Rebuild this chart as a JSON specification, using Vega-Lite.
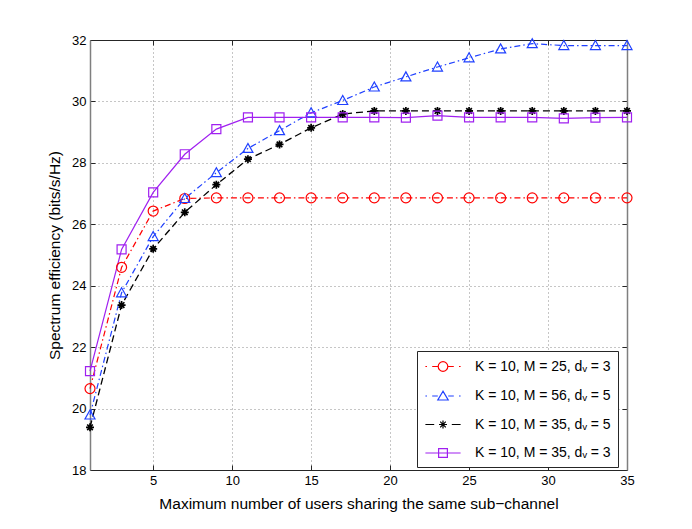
{
  "$schema": "https://vega.github.io/schema/vega-lite/v6.json",
  "width": 537,
  "height": 430,
  "autosize": "none",
  "padding": {"left": 90, "top": 40, "right": 65, "bottom": 59},
  "background": "white",
  "config": {
    "font": "Liberation Sans",
    "view": {"stroke": null},
    "axis": {
      "labelFont": "Liberation Sans",
      "titleFont": "Liberation Sans",
      "labelFontSize": 13,
      "titleFontSize": 15.5,
      "titleFontWeight": "normal",
      "labelColor": "black",
      "titleColor": "black",
      "tickSize": -5,
      "tickColor": "#262626",
      "domainColor": "#262626",
      "gridColor": "#8c8c8c",
      "gridDash": [1, 3],
      "labelFlush": false
    },
    "legend": {
      "orient": "none",
      "legendX": 327,
      "legendY": 311,
      "strokeColor": "#262626",
      "fillColor": "white",
      "padding": 6.5,
      "symbolSize": 256,
      "symbolStrokeWidth": 1.2,
      "symbolOffset": 10.5,
      "labelOffset": 23,
      "labelFontSize": 14,
      "labelFont": "Liberation Sans",
      "labelColor": "black",
      "labelLimit": 300,
      "rowPadding": 12.5,
      "symbolOpacity": 1
    }
  },
  "data": {
    "values": [
      {"series": "K = 10, M = 25, dᵥ = 3", "x": 1, "y": 20.65},
      {"series": "K = 10, M = 25, dᵥ = 3", "x": 3, "y": 24.6},
      {"series": "K = 10, M = 25, dᵥ = 3", "x": 5, "y": 26.43},
      {"series": "K = 10, M = 25, dᵥ = 3", "x": 7, "y": 26.84},
      {"series": "K = 10, M = 25, dᵥ = 3", "x": 9, "y": 26.86},
      {"series": "K = 10, M = 25, dᵥ = 3", "x": 11, "y": 26.86},
      {"series": "K = 10, M = 25, dᵥ = 3", "x": 13, "y": 26.86},
      {"series": "K = 10, M = 25, dᵥ = 3", "x": 15, "y": 26.86},
      {"series": "K = 10, M = 25, dᵥ = 3", "x": 17, "y": 26.86},
      {"series": "K = 10, M = 25, dᵥ = 3", "x": 19, "y": 26.86},
      {"series": "K = 10, M = 25, dᵥ = 3", "x": 21, "y": 26.86},
      {"series": "K = 10, M = 25, dᵥ = 3", "x": 23, "y": 26.86},
      {"series": "K = 10, M = 25, dᵥ = 3", "x": 25, "y": 26.86},
      {"series": "K = 10, M = 25, dᵥ = 3", "x": 27, "y": 26.86},
      {"series": "K = 10, M = 25, dᵥ = 3", "x": 29, "y": 26.86},
      {"series": "K = 10, M = 25, dᵥ = 3", "x": 31, "y": 26.86},
      {"series": "K = 10, M = 25, dᵥ = 3", "x": 33, "y": 26.86},
      {"series": "K = 10, M = 25, dᵥ = 3", "x": 35, "y": 26.86},
      {"series": "K = 10, M = 56, dᵥ = 5", "x": 1, "y": 19.79},
      {"series": "K = 10, M = 56, dᵥ = 5", "x": 3, "y": 23.77},
      {"series": "K = 10, M = 56, dᵥ = 5", "x": 5, "y": 25.6},
      {"series": "K = 10, M = 56, dᵥ = 5", "x": 7, "y": 26.84},
      {"series": "K = 10, M = 56, dᵥ = 5", "x": 9, "y": 27.68},
      {"series": "K = 10, M = 56, dᵥ = 5", "x": 11, "y": 28.47},
      {"series": "K = 10, M = 56, dᵥ = 5", "x": 13, "y": 29.05},
      {"series": "K = 10, M = 56, dᵥ = 5", "x": 15, "y": 29.63},
      {"series": "K = 10, M = 56, dᵥ = 5", "x": 17, "y": 30.03},
      {"series": "K = 10, M = 56, dᵥ = 5", "x": 19, "y": 30.47},
      {"series": "K = 10, M = 56, dᵥ = 5", "x": 21, "y": 30.8},
      {"series": "K = 10, M = 56, dᵥ = 5", "x": 23, "y": 31.12},
      {"series": "K = 10, M = 56, dᵥ = 5", "x": 25, "y": 31.42},
      {"series": "K = 10, M = 56, dᵥ = 5", "x": 27, "y": 31.71},
      {"series": "K = 10, M = 56, dᵥ = 5", "x": 29, "y": 31.88},
      {"series": "K = 10, M = 56, dᵥ = 5", "x": 31, "y": 31.82},
      {"series": "K = 10, M = 56, dᵥ = 5", "x": 33, "y": 31.82},
      {"series": "K = 10, M = 56, dᵥ = 5", "x": 35, "y": 31.82},
      {"series": "K = 10, M = 35, dᵥ = 5", "x": 1, "y": 19.39},
      {"series": "K = 10, M = 35, dᵥ = 5", "x": 3, "y": 23.37},
      {"series": "K = 10, M = 35, dᵥ = 5", "x": 5, "y": 25.2},
      {"series": "K = 10, M = 35, dᵥ = 5", "x": 7, "y": 26.39},
      {"series": "K = 10, M = 35, dᵥ = 5", "x": 9, "y": 27.29},
      {"series": "K = 10, M = 35, dᵥ = 5", "x": 11, "y": 28.12},
      {"series": "K = 10, M = 35, dᵥ = 5", "x": 13, "y": 28.6},
      {"series": "K = 10, M = 35, dᵥ = 5", "x": 15, "y": 29.14},
      {"series": "K = 10, M = 35, dᵥ = 5", "x": 17, "y": 29.59},
      {"series": "K = 10, M = 35, dᵥ = 5", "x": 19, "y": 29.69},
      {"series": "K = 10, M = 35, dᵥ = 5", "x": 21, "y": 29.69},
      {"series": "K = 10, M = 35, dᵥ = 5", "x": 23, "y": 29.69},
      {"series": "K = 10, M = 35, dᵥ = 5", "x": 25, "y": 29.69},
      {"series": "K = 10, M = 35, dᵥ = 5", "x": 27, "y": 29.69},
      {"series": "K = 10, M = 35, dᵥ = 5", "x": 29, "y": 29.69},
      {"series": "K = 10, M = 35, dᵥ = 5", "x": 31, "y": 29.69},
      {"series": "K = 10, M = 35, dᵥ = 5", "x": 33, "y": 29.69},
      {"series": "K = 10, M = 35, dᵥ = 5", "x": 35, "y": 29.69},
      {"series": "K = 10, M = 35, dᵥ = 3", "x": 1, "y": 21.22},
      {"series": "K = 10, M = 35, dᵥ = 3", "x": 3, "y": 25.18},
      {"series": "K = 10, M = 35, dᵥ = 3", "x": 5, "y": 27.04},
      {"series": "K = 10, M = 35, dᵥ = 3", "x": 7, "y": 28.28},
      {"series": "K = 10, M = 35, dᵥ = 3", "x": 9, "y": 29.1},
      {"series": "K = 10, M = 35, dᵥ = 3", "x": 11, "y": 29.48},
      {"series": "K = 10, M = 35, dᵥ = 3", "x": 13, "y": 29.48},
      {"series": "K = 10, M = 35, dᵥ = 3", "x": 15, "y": 29.48},
      {"series": "K = 10, M = 35, dᵥ = 3", "x": 17, "y": 29.48},
      {"series": "K = 10, M = 35, dᵥ = 3", "x": 19, "y": 29.48},
      {"series": "K = 10, M = 35, dᵥ = 3", "x": 21, "y": 29.47},
      {"series": "K = 10, M = 35, dᵥ = 3", "x": 23, "y": 29.54},
      {"series": "K = 10, M = 35, dᵥ = 3", "x": 25, "y": 29.48},
      {"series": "K = 10, M = 35, dᵥ = 3", "x": 27, "y": 29.48},
      {"series": "K = 10, M = 35, dᵥ = 3", "x": 29, "y": 29.48},
      {"series": "K = 10, M = 35, dᵥ = 3", "x": 31, "y": 29.45},
      {"series": "K = 10, M = 35, dᵥ = 3", "x": 33, "y": 29.47},
      {"series": "K = 10, M = 35, dᵥ = 3", "x": 35, "y": 29.48}
    ]
  },
  "encoding": {
    "x": {"field": "x", "type": "quantitative", "scale": {"domain": [1, 35], "nice": false, "zero": false}, "axis": null},
    "y": {"field": "y", "type": "quantitative", "scale": {"domain": [18, 32], "nice": false, "zero": false}, "axis": null}
  },
  "layer": [
    {
      "transform": [{"filter": {"field": "series", "equal": "K = 10, M = 25, dᵥ = 3"}}],
      "mark": {"type": "line", "strokeWidth": 1.2, "color": "#ff0000", "strokeDash": [6, 3, 1.5, 3]},
      "encoding": {
        "x": {
          "field": "x", "type": "quantitative",
          "scale": {"domain": [1, 35], "nice": false, "zero": false},
          "axis": {
            "orient": "bottom",
            "values": [5, 10, 15, 20, 25, 30, 35],
            "title": "Maximum number of users sharing the same sub−channel",
            "grid": true,
            "labelPadding": 9,
            "titlePadding": 9
          }
        },
        "y": {
          "field": "y", "type": "quantitative",
          "scale": {"domain": [18, 32], "nice": false, "zero": false},
          "axis": {
            "orient": "left",
            "values": [18, 20, 22, 24, 26, 28, 30, 32],
            "title": "Spectrum efficiency (bits/s/Hz)",
            "grid": true,
            "labelPadding": 9,
            "titlePadding": 9,
            "domainColor": "#7f7f7f",
            "domainWidth": 1.5
          }
        }
      }
    },
    {
      "transform": [{"filter": {"field": "series", "equal": "K = 10, M = 56, dᵥ = 5"}}],
      "mark": {"type": "line", "strokeWidth": 1.2, "color": "#1f40ff", "strokeDash": [6, 3, 1.5, 3]}
    },
    {
      "transform": [{"filter": {"field": "series", "equal": "K = 10, M = 35, dᵥ = 5"}}],
      "mark": {"type": "line", "strokeWidth": 1.3, "color": "#000000", "strokeDash": [7, 4]}
    },
    {
      "transform": [{"filter": {"field": "series", "equal": "K = 10, M = 35, dᵥ = 3"}}],
      "mark": {"type": "line", "strokeWidth": 1.2, "color": "#a020f0"}
    },
    {
      "transform": [{"filter": {"field": "series", "equal": "K = 10, M = 25, dᵥ = 3"}}],
      "mark": {"type": "point", "shape": "circle", "filled": false, "size": 100, "color": "#ff0000", "strokeWidth": 1.2, "opacity": 1}
    },
    {
      "transform": [{"filter": {"field": "series", "equal": "K = 10, M = 56, dᵥ = 5"}}],
      "mark": {"type": "point", "shape": "M0,-1L-1,0.8L1,0.8Z", "filled": false, "size": 100, "color": "#1f40ff", "strokeWidth": 1.2, "opacity": 1}
    },
    {
      "transform": [{"filter": {"field": "series", "equal": "K = 10, M = 35, dᵥ = 5"}}],
      "mark": {"type": "point", "shape": "M-1,0H1M0,-1V1M-0.7,-0.7L0.7,0.7M-0.7,0.7L0.7,-0.7", "filled": false, "size": 64, "color": "#000000", "strokeWidth": 1.7, "opacity": 1}
    },
    {
      "transform": [{"filter": {"field": "series", "equal": "K = 10, M = 35, dᵥ = 3"}}],
      "mark": {"type": "point", "shape": "square", "filled": false, "size": 81, "color": "#a020f0", "strokeWidth": 1.2, "opacity": 1}
    },
    {
      "mark": {"type": "point", "filled": false, "opacity": 0},
      "encoding": {
        "x": {
          "field": "x", "type": "quantitative",
          "scale": {"domain": [1, 35], "nice": false, "zero": false},
          "axis": {"orient": "top", "values": [5, 10, 15, 20, 25, 30, 35], "labels": false, "title": null, "grid": false}
        },
        "y": {
          "field": "y", "type": "quantitative",
          "scale": {"domain": [18, 32], "nice": false, "zero": false},
          "axis": {"orient": "right", "values": [18, 20, 22, 24, 26, 28, 30, 32], "labels": false, "title": null, "grid": false, "domainColor": "#7f7f7f", "domainWidth": 1.5}
        },
        "color": {
          "field": "series", "type": "nominal",
          "scale": {
            "domain": ["K = 10, M = 25, dᵥ = 3", "K = 10, M = 56, dᵥ = 5", "K = 10, M = 35, dᵥ = 5", "K = 10, M = 35, dᵥ = 3"],
            "range": ["#ff0000", "#1f40ff", "#000000", "#a020f0"]
          },
          "legend": {"title": null}
        },
        "shape": {
          "field": "series", "type": "nominal",
          "scale": {
            "domain": ["K = 10, M = 25, dᵥ = 3", "K = 10, M = 56, dᵥ = 5", "K = 10, M = 35, dᵥ = 5", "K = 10, M = 35, dᵥ = 3"],
            "range": [
              "M-2.2,0H-2M-1.35,0H-0.62M0.62,0H1.35M2,0H2.2M0.6,0A0.6,0.6 0 1,1 -0.6,0A0.6,0.6 0 1,1 0.6,0",
              "M-2.2,0H-2M-1.35,0H-0.65M0.65,0H1.35M2,0H2.2M0,-0.6L-0.65,0.5L0.65,0.5Z",
              "M-2.2,0H-1.1M1.1,0H2.2M-0.5,0H0.5M0,-0.5V0.5M-0.35,-0.35L0.35,0.35M-0.35,0.35L0.35,-0.35",
              "M-2.2,0H2.2M-0.55,-0.55H0.55V0.55H-0.55Z"
            ]
          },
          "legend": {"title": null}
        }
      }
    }
  ],
  "resolve": {"axis": {"x": "independent", "y": "independent"}}
}
